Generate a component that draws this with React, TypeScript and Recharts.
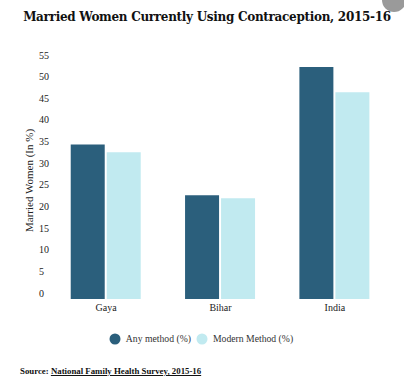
import React from "react";
import { BarChart, Bar, XAxis, YAxis, Legend } from "recharts";

const categories = ["Gaya", "Bihar", "India"];
const anyMethod = [35.7, 24.0, 53.6];
const modernMethod = [33.9, 23.3, 47.8];
const yTicks = [0, 5, 10, 15, 20, 25, 30, 35, 40, 45, 50, 55];
const seriesNames = ["Any method (%)", "Modern Method (%)"];

const data = categories.map((c, i) => ({ name: c, any: anyMethod[i], modern: modernMethod[i] }));

const DARK = "#2b5f7c";
const LIGHT = "#c1eaf0";
const TITLE_FONT = "'DejaVu Serif', serif";
const FONT = "'Liberation Serif', serif";

const YTick = (props: any) => {
  const { y, payload } = props;
  return (
    <text x={39} y={y - 6} dy="0.35em" textAnchor="start" fontSize={10} fontFamily={FONT} fill="#222">
      {payload.value}
    </text>
  );
};

const LegendContent = () => (
  <div style={{ display: "flex", justifyContent: "center", alignItems: "center", paddingTop: 14, paddingLeft: 10, fontFamily: FONT, fontSize: 9.7, color: "#333", lineHeight: "12px" }}>
    {seriesNames.map((n, i) => (
      <span key={n} style={{ display: "inline-flex", alignItems: "center", marginRight: i === 0 ? 5 : 0 }}>
        <svg width={12} height={12} style={{ marginRight: 5 }}>
          <circle cx={6} cy={6} r={5.5} fill={i === 0 ? DARK : LIGHT} />
        </svg>
        {n}
      </span>
    ))}
  </div>
);

export default function App() {
  return (
    <div style={{ position: "absolute", left: 0, top: 0, width: 404, height: 385, background: "#fff", overflow: "hidden" }}>
      <div style={{ position: "absolute", left: 382, top: -12, width: 24, height: 24, borderRadius: 12, background: "#9a9a9a" }} />
      <div style={{ position: "absolute", left: 0, top: 10, width: 414, textAlign: "center", fontFamily: TITLE_FONT, fontWeight: "bold", fontSize: 12, color: "#111", whiteSpace: "nowrap", letterSpacing: -0.3 }}>
        Married Women Currently Using Contraception, 2015-16
      </div>
      <BarChart width={404} height={385} data={data} margin={{ top: 61, right: 12, bottom: 0, left: 0 }} barCategoryGap="19%" barGap={2}>
        <XAxis dataKey="name" axisLine={false} tickLine={false} height={20} tick={{ fontSize: 10, fontFamily: FONT, fill: "#222", dy: -3 }} />
        <YAxis
          width={49}
          domain={[0, 55]}
          ticks={yTicks}
          interval={0}
          axisLine={false}
          tickLine={false}
          tick={<YTick />}
          label={{ value: "Married Women (In %)", angle: -90, position: "insideLeft", dx: 24, dy: 52, style: { fontSize: 11, fontFamily: FONT, fill: "#222" } }}
        />
        <Legend verticalAlign="bottom" content={<LegendContent />} wrapperStyle={{ height: 66 }} />
        <Bar dataKey="any" name={seriesNames[0]} fill={DARK} isAnimationActive={false} />
        <Bar dataKey="modern" name={seriesNames[1]} fill={LIGHT} isAnimationActive={false} />
      </BarChart>
      <div style={{ position: "absolute", left: 20, top: 366, fontFamily: FONT, fontSize: 8.8, fontWeight: "bold", color: "#111", whiteSpace: "nowrap" }}>
        Source: <span style={{ textDecoration: "underline" }}>National Family Health Survey, 2015-16</span>
      </div>
    </div>
  );
}
